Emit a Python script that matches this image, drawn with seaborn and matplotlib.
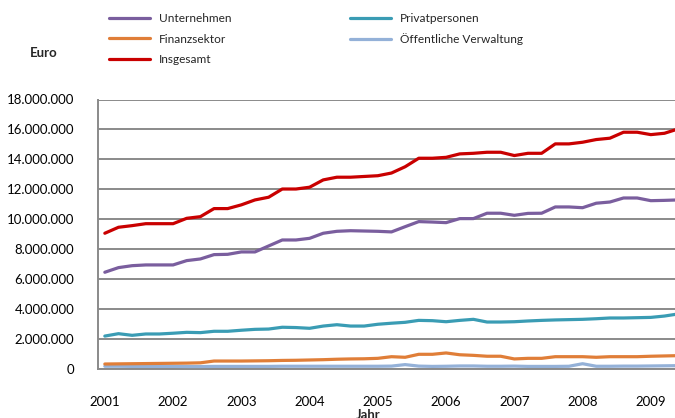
import numpy as np
import pandas as pd
import matplotlib
matplotlib.use("Agg")
import matplotlib.pyplot as plt
import seaborn as sns
from matplotlib.ticker import FuncFormatter, FixedLocator

# Werte in Mio. Euro (ein Wert je Zeitpunkt)
unternehmen = [6.44, 6.75, 6.88, 6.93, 6.93, 6.93, 7.22, 7.33, 7.62, 7.64,
               7.80, 7.80, 8.20, 8.60, 8.60, 8.71, 9.05, 9.18, 9.22, 9.20,
               9.18, 9.14, 9.49, 9.83, 9.80, 9.76, 10.03, 10.03, 10.39, 10.39,
               10.25, 10.38, 10.39, 10.81, 10.81, 10.76, 11.06, 11.14, 11.41, 11.41,
               11.23, 11.25, 11.28]
privatpersonen = [2.17, 2.33, 2.22, 2.31, 2.31, 2.36, 2.42, 2.40, 2.49, 2.49,
                  2.56, 2.62, 2.64, 2.76, 2.74, 2.69, 2.84, 2.93, 2.84, 2.84,
                  2.96, 3.03, 3.09, 3.22, 3.20, 3.13, 3.22, 3.29, 3.11, 3.11,
                  3.13, 3.18, 3.22, 3.25, 3.27, 3.29, 3.33, 3.38, 3.38, 3.40,
                  3.42, 3.51, 3.65]
finanzsektor = [0.30, 0.31, 0.32, 0.33, 0.34, 0.35, 0.36, 0.38, 0.50, 0.50,
                0.50, 0.51, 0.52, 0.54, 0.55, 0.57, 0.59, 0.62, 0.64, 0.65,
                0.68, 0.79, 0.75, 0.95, 0.95, 1.04, 0.92, 0.88, 0.82, 0.82,
                0.64, 0.68, 0.68, 0.79, 0.79, 0.79, 0.75, 0.79, 0.79, 0.79,
                0.82, 0.84, 0.86]
oeffentlich = [0.15, 0.15, 0.14, 0.14, 0.14, 0.14, 0.13, 0.13, 0.14, 0.14,
               0.14, 0.14, 0.14, 0.15, 0.15, 0.15, 0.15, 0.15, 0.15, 0.15,
               0.15, 0.16, 0.26, 0.16, 0.14, 0.15, 0.17, 0.17, 0.15, 0.15,
               0.16, 0.14, 0.14, 0.14, 0.15, 0.32, 0.15, 0.15, 0.16, 0.16,
               0.17, 0.18, 0.19]
insgesamt = [9.05, 9.45, 9.56, 9.69, 9.69, 9.69, 10.05, 10.16, 10.70, 10.70,
             10.95, 11.28, 11.46, 12.01, 12.01, 12.13, 12.62, 12.80, 12.80, 12.85,
             12.90, 13.08, 13.50, 14.07, 14.07, 14.13, 14.36, 14.40, 14.47, 14.47,
             14.25, 14.40, 14.40, 15.03, 15.03, 15.14, 15.32, 15.41, 15.81, 15.81,
             15.65, 15.74, 16.03]

jahre = ["2001", "2002", "2003", "2004", "2005", "2006", "2007", "2008", "2009"]
punkte_pro_jahr = 5

serien = {
    "Öffentliche Verwaltung": oeffentlich,
    "Finanzsektor": finanzsektor,
    "Privatpersonen": privatpersonen,
    "Unternehmen": unternehmen,
    "Insgesamt": insgesamt,
}
farben = {
    "Unternehmen": "#7A5E9E",
    "Finanzsektor": "#E07E38",
    "Insgesamt": "#C90000",
    "Privatpersonen": "#3A9CB4",
    "Öffentliche Verwaltung": "#94B1D8",
}
legenden_reihenfolge = ["Unternehmen", "Finanzsektor", "Insgesamt",
                        "Privatpersonen", "Öffentliche Verwaltung"]

n = len(insgesamt)
df = pd.DataFrame([
    {"t": i, "wert": v * 1e6, "reihe": name}
    for name, werte in serien.items() for i, v in enumerate(werte)
])

sns.set_style("white")
plt.rcParams["font.family"] = ["Lato", "DejaVu Sans"]

W, H = 675, 418
fig = plt.figure(figsize=(W / 100, H / 100), dpi=100)
left, right, top, bottom = 98, 98 + 13.65 * n, 99.5, 368.5
ax = fig.add_axes([left / W, 1 - bottom / H, (right - left) / W, (bottom - top) / H])

for name in serien:
    sns.lineplot(data=df[df["reihe"] == name], x="t", y="wert", color=farben[name],
                 linewidth=2.3, label=name, ax=ax, zorder=3)

grau = "#8A8A8A"
ax.set_xlim(-0.5, n - 0.5)
ax.set_ylim(0, 18e6)
ax.set_yticks(np.arange(0, 18e6 + 1, 2e6))
ax.yaxis.set_major_formatter(FuncFormatter(lambda v, p: f"{int(v):,}".replace(",", ".")))
ax.grid(axis="y", color=grau, linewidth=1.4)
ax.set_axisbelow(True)

ax.set_xticks([i * punkte_pro_jahr for i in range(len(jahre))])
ax.set_xticklabels(jahre)
ax.xaxis.set_minor_locator(FixedLocator(np.arange(-0.5, n, 2)))
ax.tick_params(axis="x", which="major", length=0, pad=19.5, labelsize=9.5, colors="black")
ax.tick_params(axis="x", which="minor", length=5, width=1.4, color=grau, direction="out")
ax.tick_params(axis="y", length=5, width=1.4, color=grau, direction="out",
               pad=12, labelsize=9.5, labelcolor="black")

for s in ["top", "right"]:
    ax.spines[s].set_visible(False)
for s in ["left", "bottom"]:
    ax.spines[s].set_color(grau)
    ax.spines[s].set_linewidth(1.4)

ax.set_xlabel("")
ax.set_ylabel("")

handles, labels = ax.get_legend_handles_labels()
lookup = dict(zip(labels, handles))
ax.legend([lookup[l] for l in legenden_reihenfolge], legenden_reihenfolge,
          ncol=2, frameon=False, fontsize=8.6, loc="upper left",
          bbox_to_anchor=(109 / W, 1 - 13 / H), bbox_transform=fig.transFigure,
          handlelength=3.45, handletextpad=0.75, columnspacing=9.9,
          labelspacing=0.8, borderpad=0, borderaxespad=0)

fig.text(44 / W, 1 - 53 / H, "Euro", fontsize=9.5, fontweight="bold",
         ha="center", va="center")
fig.text(368 / W, 1 - 409 / H, "Jahr", fontsize=9.5, fontweight="bold",
         ha="center", va="top")

fig.savefig("out.png", dpi=100)
